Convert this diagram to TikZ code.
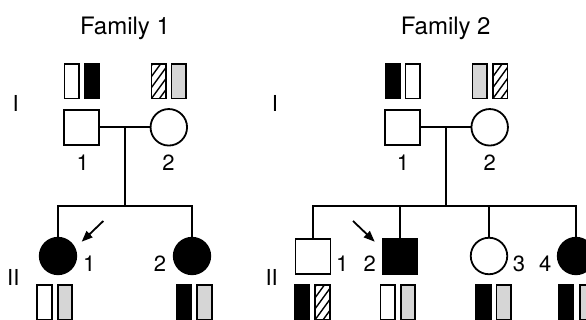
\documentclass[tikz,border=0pt]{standalone}
\usepackage{fontspec}
\setmainfont{TeX Gyre Heros}
\usetikzlibrary{arrows.meta}
\definecolor{lgray}{HTML}{D6D6D6}
\tikzset{
  male/.style={draw, line width=1.8pt, rectangle, minimum size=35pt, inner sep=0pt},
  female/.style={draw, line width=1.8pt, circle, minimum size=36.5pt, inner sep=0pt},
  aff/.style={fill=black},
  bar/.style={draw, line width=1.6pt, rectangle, minimum width=14.5pt, minimum height=34.5pt, inner sep=0pt},
  wbar/.style={bar, fill=white},
  bbar/.style={bar, fill=black},
  gbar/.style={bar, fill=lgray},
  hbar/.style={bar, fill=white, path picture={
      \foreach \k in {-3,...,3}
        \draw[line width=1.4pt] ([yshift=\k*11pt]path picture bounding box.south west) -- ++(16pt,22pt);}},
  lab/.style={font=\fontsize{22}{22}\selectfont, anchor=base, inner sep=0pt},
  ttl/.style={font=\fontsize{24}{24}\selectfont, anchor=base, inner sep=0pt},
  ln/.style={line width=1.8pt},
  arr/.style={line width=1.8pt, -{Triangle[length=11pt,width=8.5pt]}},
}
\begin{document}
\begin{tikzpicture}[x=1pt,y=-1pt]
\clip (0,0) rectangle (586,320);
\fill[white] (0,0) rectangle (586,320);

% ---------------- Family 1 ----------------
\node[ttl] (t1) at (125,34.5) {Family 1};
\node[lab] (g1a) at (15.7,112) {I};
\node[lab] (g1b) at (13.3,286) {II};

\node[wbar] (b1a) at (71.7,81.3) {};
\node[bbar] (b1b) at (91.7,81.3) {};
\node[hbar] (b1c) at (158.7,81.3) {};
\node[gbar] (b1d) at (178.8,81.3) {};

\node[male] (f1i1) at (81.7,127.3) {};
\node[female] (f1i2) at (168.8,127.3) {};
\node[lab] (l1i1) at (82.7,171) {1};
\node[lab] (l1i2) at (168.5,171) {2};

\coordinate (f1m) at (125,127.3);
\coordinate (f1sib) at (125,206);
\draw[ln] (f1i1.east) -- (f1i2.west);
\draw[ln] (f1m) -- (f1sib);

\node[female,aff] (f1ii1) at (58,256) {};
\node[female,aff] (f1ii2) at (192,256) {};
\draw[ln] (f1ii1.north) |- (f1sib) -| (f1ii2.north);
\node[lab] (l1ii1) at (89.3,271.5) {1};
\node[lab] (l1ii2) at (160,271.5) {2};

\coordinate (f1as) at (103.3,221);
\coordinate (f1at) at (81.7,241.7);
\draw[arr] (f1as) -- (f1at);

\node[wbar] (b1e) at (44.5,302.3) {};
\node[gbar] (b1f) at (65,302.3) {};
\node[bbar] (b1g) at (183.7,302.3) {};
\node[gbar] (b1h) at (204.5,302.3) {};

% ---------------- Family 2 ----------------
\node[ttl] (t2) at (445.7,34.5) {Family 2};
\node[lab] (g2a) at (275,112) {I};
\node[lab] (g2b) at (271.7,286) {II};

\node[bbar] (b2a) at (392.7,81.3) {};
\node[wbar] (b2b) at (412.7,81.3) {};
\node[gbar] (b2c) at (479.7,81.3) {};
\node[hbar] (b2d) at (500.2,81.3) {};

\node[male] (f2i1) at (402.7,127.3) {};
\node[female] (f2i2) at (489.7,127.3) {};
\node[lab] (l2i1) at (403,171) {1};
\node[lab] (l2i2) at (489.7,171) {2};

\coordinate (f2m) at (446,127.3);
\coordinate (f2sib) at (446,206);
\draw[ln] (f2i1.east) -- (f2i2.west);
\draw[ln] (f2m) -- (f2sib);

\node[male] (f2ii1) at (313,256.3) {};
\node[male,aff] (f2ii2) at (400,256.3) {};
\node[female] (f2ii3) at (489,256) {};
\node[female,aff] (f2ii4) at (576,256) {};
\draw[ln] (f2ii1.north) |- (f2sib) -| (f2ii4.north);
\draw[ln] (f2ii2.north) -- (f2ii2.north |- f2sib);
\draw[ln] (f2ii3.north) -- (f2ii3.north |- f2sib);
\node[lab] (l2ii1) at (342.3,271.5) {1};
\node[lab] (l2ii2) at (369.7,271.5) {2};
\node[lab] (l2ii3) at (519,271.5) {3};
\node[lab] (l2ii4) at (545.3,271.5) {4};

\coordinate (f2as) at (353,221);
\coordinate (f2at) at (374.7,241.7);
\draw[arr] (f2as) -- (f2at);

\node[bbar] (b2e) at (302.2,302.3) {};
\node[hbar] (b2f) at (322.5,302.3) {};
\node[wbar] (b2g) at (387.8,302.3) {};
\node[gbar] (b2h) at (408,302.3) {};
\node[bbar] (b2i) at (483.5,302.3) {};
\node[gbar] (b2j) at (503.8,302.3) {};
\node[bbar] (b2k) at (566,302.3) {};
\node[gbar] (b2l) at (587,302.3) {};
\end{tikzpicture}
\end{document}
